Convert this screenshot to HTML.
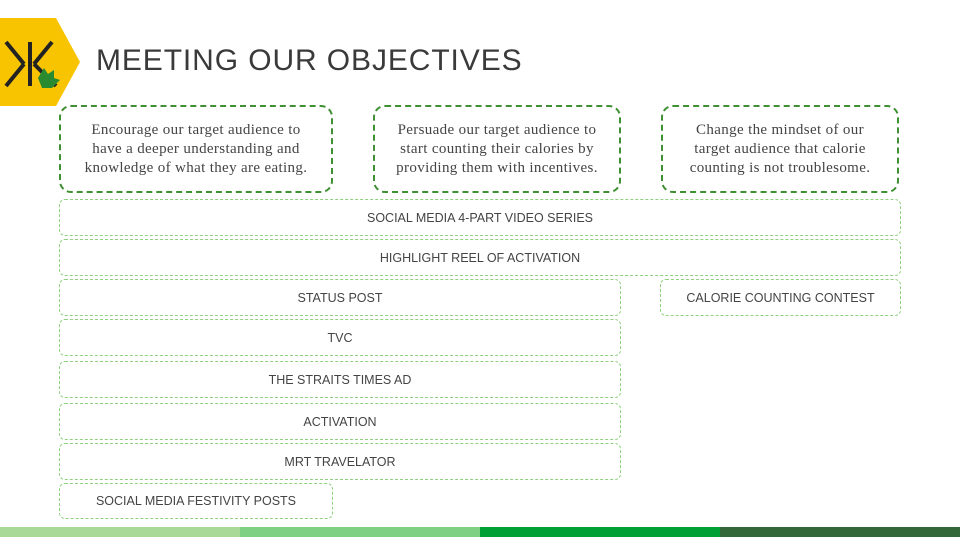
<!DOCTYPE html>
<html><head><meta charset="utf-8"><style>
body{margin:0;width:960px;height:537px;position:relative;background:#fff;overflow:hidden;font-family:"Liberation Sans",sans-serif;}
.a{position:absolute;box-sizing:border-box;}
.obj{border:2.5px dashed #3f8f33;border-radius:12px;display:flex;align-items:center;justify-content:center;text-align:center;font-family:"Liberation Serif",serif;font-size:15px;line-height:19px;color:#444;letter-spacing:0.35px;}
.row{border:1px dashed #8fcf7f;border-radius:6px;display:flex;align-items:center;justify-content:center;font-size:12.5px;color:#444;}
</style></head><body>
<svg class="a" style="left:0;top:18px" width="82" height="88" viewBox="0 0 82 88">
<polygon points="0,0 56,0 80,44 56,88 0,88" fill="#f8c400"/>
<g stroke="#222" stroke-width="4" fill="none">
<line x1="6" y1="24" x2="24" y2="46"/><line x1="24" y1="46" x2="6" y2="68"/>
<line x1="30" y1="24" x2="30" y2="68"/>
<line x1="52" y1="24" x2="34" y2="46"/><line x1="34" y1="46" x2="56" y2="68"/>
</g>
<path d="M38 60 L44 50 L48 56 L54 52 L54 60 L60 62 L52 70 L42 70 Z" fill="#2a8a30"/>
</svg>
<div class="a" style="left:96px;top:44px;font-size:30px;color:#3a3a3a;letter-spacing:0.9px;">MEETING OUR OBJECTIVES</div>
<div class="a obj" style="left:59px;top:105px;width:274px;height:88px">Encourage our target audience to<br>have a deeper understanding and<br>knowledge of what they are eating.</div>
<div class="a obj" style="left:373px;top:105px;width:248px;height:88px">Persuade our target audience to<br>start counting their calories by<br>providing them with incentives.</div>
<div class="a obj" style="left:661px;top:105px;width:238px;height:88px">Change the mindset of our<br>target audience that calorie<br>counting is not troublesome.</div>
<div class="a row" style="left:59px;top:199px;width:842px;height:37px">SOCIAL MEDIA 4-PART VIDEO SERIES</div>
<div class="a row" style="left:59px;top:239px;width:842px;height:37px">HIGHLIGHT REEL OF ACTIVATION</div>
<div class="a row" style="left:59px;top:279px;width:562px;height:37px">STATUS POST</div>
<div class="a row" style="left:660px;top:279px;width:241px;height:37px">CALORIE COUNTING CONTEST</div>
<div class="a row" style="left:59px;top:319px;width:562px;height:37px">TVC</div>
<div class="a row" style="left:59px;top:361px;width:562px;height:37px">THE STRAITS TIMES AD</div>
<div class="a row" style="left:59px;top:403px;width:562px;height:37px">ACTIVATION</div>
<div class="a row" style="left:59px;top:443px;width:562px;height:37px">MRT TRAVELATOR</div>
<div class="a row" style="left:59px;top:483px;width:274px;height:36px">SOCIAL MEDIA FESTIVITY POSTS</div>
<div class="a" style="left:0;top:527px;width:240px;height:10px;background:#a8d996"></div>
<div class="a" style="left:240px;top:527px;width:240px;height:10px;background:#80d084"></div>
<div class="a" style="left:480px;top:527px;width:240px;height:10px;background:#00a035"></div>
<div class="a" style="left:720px;top:527px;width:240px;height:10px;background:#33673a"></div>
</body></html>
